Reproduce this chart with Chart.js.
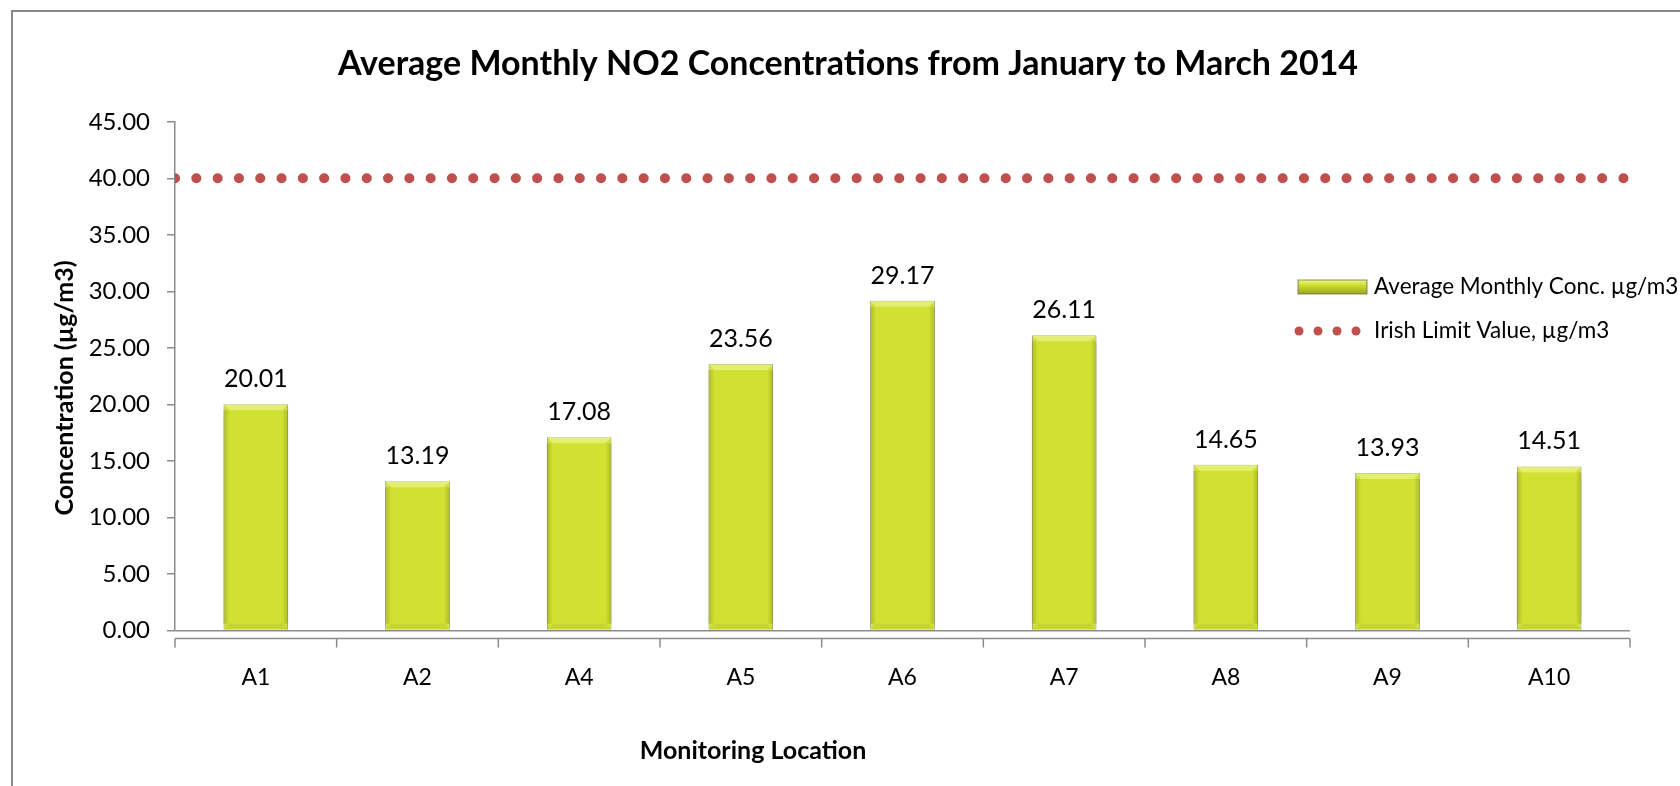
<!DOCTYPE html>
<html lang="en">
    <head>
        <meta charset="UTF-8" />
        <title>Average Monthly NO2 Concentrations</title>
        <script src="https://cdn.jsdelivr.net/npm/chart.js"></script>
        <style>
            body { margin: 0; background: #fff; }
            canvas { display: block; }
        </style>
    </head>
    <body>
        <canvas id="no2" width="1680" height="786"></canvas>

        <script>
            // Datos
            const locations = ["A1", "A2", "A4", "A5", "A6", "A7", "A8", "A9", "A10"];
            const avgConc = [20.01, 13.19, 17.08, 23.56, 29.17, 26.11, 14.65, 13.93, 14.51];
            const limitValue = 40;
            const yMin = 0;
            const yMax = 45;
            const yStep = 5;

            const FONT = "Lato, 'Liberation Sans', sans-serif";
            const AXIS_GREY = "#8c8c8c";
            const BAR_GREEN = "#d0e132";
            const LIMIT_RED = "#c0504d";

            // marco exterior, eje x separado, etiquetas, leyenda
            const excelLook = {
                id: "excelLook",
                beforeDraw(chart) {
                    const c = chart.ctx;
                    c.save();
                    c.strokeStyle = "#888";
                    c.lineWidth = 2;
                    c.strokeRect(12, 11, 1800, 900);
                    c.restore();
                },
                afterDatasetsDraw(chart) {
                    const c = chart.ctx;
                    const meta = chart.getDatasetMeta(0);
                    c.save();
                    meta.data.forEach((bar, i) => {
                        const x0 = bar.x - bar.width / 2;
                        const x1 = bar.x + bar.width / 2;
                        const top = bar.y;
                        const bot = bar.base;
                        const b = 6;
                        // bisel superior claro
                        c.fillStyle = "rgba(240,248,150,0.6)";
                        c.beginPath();
                        c.moveTo(x0, top); c.lineTo(x1, top);
                        c.lineTo(x1 - b, top + b); c.lineTo(x0 + b, top + b);
                        c.closePath(); c.fill();
                        // bordes laterales oscuros
                        let g = c.createLinearGradient(x0, 0, x0 + b, 0);
                        g.addColorStop(0, "rgba(120,130,10,0.4)");
                        g.addColorStop(1, "rgba(120,130,10,0)");
                        c.fillStyle = g;
                        c.fillRect(x0, top + b, b, bot - top - 2 * b);
                        g = c.createLinearGradient(x1, 0, x1 - b, 0);
                        g.addColorStop(0, "rgba(120,130,10,0.4)");
                        g.addColorStop(1, "rgba(120,130,10,0)");
                        c.fillStyle = g;
                        c.fillRect(x1 - b, top + b, b, bot - top - 2 * b);
                        // bisel inferior
                        c.fillStyle = "rgba(130,140,20,0.12)";
                        c.beginPath();
                        c.moveTo(x0, bot); c.lineTo(x1, bot);
                        c.lineTo(x1 - b, bot - b); c.lineTo(x0 + b, bot - b);
                        c.closePath(); c.fill();
                        // etiqueta de valor
                        c.fillStyle = "#000";
                        c.font = "25px " + FONT;
                        c.textAlign = "center";
                        c.textBaseline = "middle";
                        c.fillText(avgConc[i].toFixed(2), bar.x, top - 25);
                    });
                    c.restore();
                },
                afterDraw(chart) {
                    const c = chart.ctx;
                    const area = chart.chartArea;
                    const xs = chart.scales.x;
                    const n = locations.length;
                    c.save();
                    // eje horizontal desplazado bajo la línea del cero
                    const yAxis = area.bottom + 8;
                    c.strokeStyle = AXIS_GREY;
                    c.lineWidth = 1.5;
                    c.beginPath();
                    c.moveTo(area.left, yAxis);
                    c.lineTo(area.right, yAxis);
                    for (let i = 0; i <= n; i++) {
                        let x;
                        if (i === 0) x = area.left;
                        else if (i === n) x = area.right;
                        else x = (xs.getPixelForValue(i - 1) + xs.getPixelForValue(i)) / 2;
                        c.moveTo(x, yAxis);
                        c.lineTo(x, yAxis + 9);
                    }
                    c.stroke();

                    // títulos de ejes
                    c.fillStyle = "#000";
                    c.font = "bold 25px " + FONT;
                    c.textAlign = "center";
                    c.textBaseline = "middle";
                    c.fillText("Monitoring Location", 753, 751);
                    c.translate(65, 388);
                    c.rotate(-Math.PI / 2);
                    c.fillText("Concentration (µg/m3)", 0, 0);
                    c.restore();

                    // leyenda
                    c.save();
                    c.font = "22.5px " + FONT;
                    c.textAlign = "left";
                    c.textBaseline = "middle";
                    const ds = chart.data.datasets;
                    let y = 287;
                    let g = c.createLinearGradient(0, y - 7, 0, y + 7);
                    g.addColorStop(0, "#eef58a");
                    g.addColorStop(0.35, BAR_GREEN);
                    g.addColorStop(1, "#9aa51c");
                    c.fillStyle = g;
                    c.fillRect(1298, y - 7, 69, 14);
                    c.strokeStyle = "rgba(110,110,80,0.8)";
                    c.lineWidth = 1;
                    c.strokeRect(1298, y - 7, 69, 14);
                    c.fillStyle = "#000";
                    c.fillText(ds[0].label, 1374, y);
                    y = 331;
                    c.fillStyle = LIMIT_RED;
                    for (let k = 0; k < 4; k++) {
                        c.beginPath();
                        c.arc(1299 + k * 19, y, 4.5, 0, Math.PI * 2);
                        c.fill();
                    }
                    c.fillStyle = "#000";
                    c.fillText(ds[1].label, 1374, y);
                    c.restore();
                },
            };

            const ctx = document.getElementById("no2").getContext("2d");
            const chart = new Chart(ctx, {
                data: {
                    labels: locations,
                    datasets: [
                        {
                            type: "bar",
                            label: "Average Monthly Conc. µg/m3",
                            data: avgConc,
                            backgroundColor: BAR_GREEN,
                            borderColor: "rgba(120,120,90,0.8)",
                            borderWidth: 1,
                            grouped: false,
                            barPercentage: 0.4,
                            categoryPercentage: 1,
                            order: 2,
                        },
                        {
                            type: "line",
                            label: "Irish Limit Value, µg/m3",
                            xAxisID: "xLimit",
                            data: [
                                { x: 0, y: limitValue },
                                { x: locations.length, y: limitValue },
                            ],
                            borderColor: LIMIT_RED,
                            borderWidth: 10,
                            borderDash: [0.1, 21.2],
                            borderCapStyle: "round",
                            pointRadius: 0,
                            fill: false,
                            order: 1,
                        },
                    ],
                },
                options: {
                    responsive: false,
                    animation: false,
                    layout: {
                        padding: { left: 66, right: 50, top: 0, bottom: 70 },
                    },
                    scales: {
                        x: {
                            type: "category",
                            grid: { display: false },
                            border: { display: false },
                            ticks: {
                                color: "#000",
                                font: { family: FONT, size: 23 },
                                padding: 25,
                            },
                        },
                        xLimit: {
                            type: "linear",
                            display: false,
                            min: 0,
                            max: locations.length,
                        },
                        y: {
                            min: yMin,
                            max: yMax,
                            afterFit(scale) {
                                scale.width = 109;
                            },
                            ticks: {
                                stepSize: yStep,
                                color: "#000",
                                font: { family: FONT, size: 24 },
                                padding: 17,
                                callback: (v) => v.toFixed(2),
                            },
                            grid: {
                                color: (c) => (c.tick && c.tick.value === 0 ? AXIS_GREY : "transparent"),
                                tickColor: AXIS_GREY,
                                tickLength: 8,
                                lineWidth: 1.5,
                            },
                            border: { display: true, color: AXIS_GREY, width: 1.5 },
                        },
                    },
                    plugins: {
                        legend: { display: false },
                        tooltip: { enabled: false },
                        title: {
                            display: true,
                            text: "Average Monthly NO2 Concentrations from January to March 2014",
                            color: "#000",
                            font: { family: FONT, size: 34, weight: "bold" },
                            padding: { top: 44, bottom: 37 },
                        },
                    },
                },
                plugins: [excelLook],
            });
        </script>
    </body>
</html>
